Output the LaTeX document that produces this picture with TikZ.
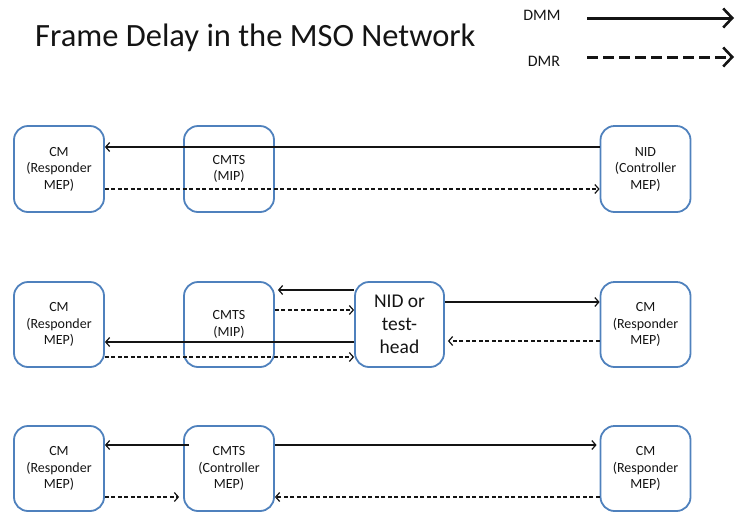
\documentclass[tikz,border=0pt]{standalone}
\usepackage{fontspec}
\setmainfont{Carlito}
\usetikzlibrary{arrows.meta}
\definecolor{boxblue}{RGB}{79,129,189}
\definecolor{ink}{RGB}{20,20,20}
\tikzset{
  box/.style={draw=boxblue, line width=1.8pt, rounded corners=14pt, minimum width=90pt, minimum height=86pt, inner sep=0pt, align=center, text=ink, font=\fontsize{14}{16.5}\selectfont},
  bigbox/.style={box, font=\fontsize{19.5}{23}\selectfont},
  dmm/.style={draw=ink, line width=1.4pt, -{Straight Barb[length=4pt,width=9pt,line width=1.2pt]}},
  dmr/.style={dmm, dash pattern=on 4pt off 2.5pt},
  legsolid/.style={draw=ink, line width=3pt, -{Straight Barb[length=9pt,width=19pt,line width=2.6pt]}},
  legdash/.style={legsolid, dash pattern=on 11pt off 5pt},
  legtext/.style={text=ink, font=\fontsize{16}{19}\selectfont, inner sep=0pt}
}
\begin{document}
\begin{tikzpicture}[x=1pt,y=-1pt]
\useasboundingbox (0,0) rectangle (738,512);
% title and legend
\node[anchor=base west, inner sep=0pt, text=ink, font=\fontsize{32.5}{38}\selectfont] (title) at (35,46) {Frame Delay in the MSO Network};
\node[legtext] (ldmm) at (542,15) {DMM};
\node[legtext] (ldmr) at (544,61) {DMR};
\coordinate (ls1) at (587,18);
\coordinate (le1) at (734,18);
\coordinate (ls2) at (587,57);
\coordinate (le2) at (734,57);
\draw[legsolid] (ls1) -- (le1);
\draw[legdash] (ls2) -- (le2);
% row 1
\node[box] (cm1) at (59,169) {CM\\(Responder\\MEP)};
\node[box] (cmts1) at (229,169) {CMTS\\(MIP)};
\node[box] (nid1) at (645.5,169) {NID\\(Controller\\MEP)};
\draw[dmm] (nid1.west |- 0,147) -- (cm1.east |- 0,147);
\draw[dmr] (cm1.east |- 0,189) -- (nid1.west |- 0,189);
% row 2
\node[box, minimum height=85pt] (cm2) at (59,324.5) {CM\\(Responder\\MEP)};
\node[box, minimum height=85pt] (cmts2) at (229,324.5) {CMTS\\(MIP)};
\node[bigbox, minimum width=89pt, minimum height=85pt] (nid2) at (399.5,324.5) {NID or\\test-\\head};
\node[box, minimum height=85pt] (cm2b) at (645.5,324.5) {CM\\(Responder\\MEP)};
\draw[dmm, shorten >=3pt] (nid2.west |- 0,290) -- (cmts2.east |- 0,290);
\draw[dmr] (cmts2.east |- 0,310) -- (nid2.west |- 0,310);
\draw[dmm] (nid2.west |- 0,342) -- (cm2.east |- 0,342);
\draw[dmr] (cm2.east |- 0,357) -- (nid2.west |- 0,357);
\draw[dmm] (nid2.east |- 0,302) -- (cm2b.west |- 0,302);
\draw[dmr, shorten >=3pt] (cm2b.west |- 0,341) -- (nid2.east |- 0,341);
% row 3
\node[box, minimum height=85pt] (cm3) at (59,468.5) {CM\\(Responder\\MEP)};
\node[box, minimum height=85pt] (cmts3) at (229,468.5) {CMTS\\(Controller\\MEP)};
\node[box, minimum height=85pt] (cm3b) at (645.5,468.5) {CM\\(Responder\\MEP)};
\draw[dmm, shorten <=-6pt] (cmts3.west |- 0,445) -- (cm3.east |- 0,445);
\draw[dmm, shorten >=3pt] (cmts3.east |- 0,445) -- (cm3b.west |- 0,445);
\draw[dmr, shorten >=4pt] (cm3.east |- 0,497) -- (cmts3.west |- 0,497);
\draw[dmr] (cm3b.west |- 0,497) -- (cmts3.east |- 0,497);
\end{tikzpicture}
\end{document}
